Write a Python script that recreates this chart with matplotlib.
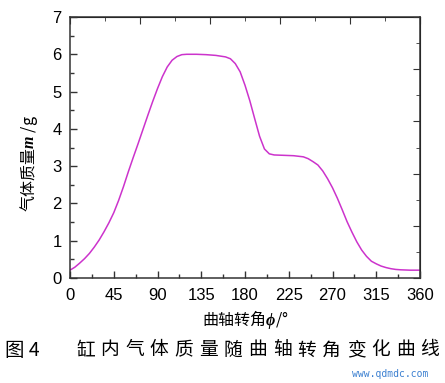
import matplotlib
matplotlib.use("Agg")
import matplotlib.pyplot as plt
from matplotlib.ticker import MultipleLocator

plt.rcParams['font.family'] = ['Liberation Sans', 'Noto Sans CJK SC', 'DejaVu Sans']
plt.rcParams['mathtext.fontset'] = 'custom'
plt.rcParams['mathtext.it'] = 'Liberation Serif:italic:bold'
plt.rcParams['mathtext.rm'] = 'Liberation Sans'

# crank angle (deg) and in-cylinder gas mass (g)
phi = [0, 5, 10, 15, 20, 25, 30, 35, 40, 45, 50, 55, 60, 65, 70, 75, 80, 85,
       90, 95, 100, 105, 110, 115, 120, 130, 140, 150, 155, 160, 165, 170,
       175, 180, 185, 190, 195, 200, 205, 210, 220, 230, 240, 245, 250, 255,
       260, 265, 270, 275, 280, 285, 290, 295, 300, 305, 310, 315, 320, 325,
       330, 335, 340, 350, 360]
mass = [0.21, 0.29, 0.40, 0.52, 0.66, 0.83, 1.02, 1.24, 1.48, 1.75, 2.08, 2.45,
        2.85, 3.23, 3.60, 3.98, 4.36, 4.73, 5.08, 5.40, 5.66, 5.84, 5.94, 5.99,
        6.00, 6.00, 5.99, 5.97, 5.95, 5.93, 5.88, 5.75, 5.53, 5.17, 4.75, 4.27,
        3.80, 3.46, 3.33, 3.30, 3.29, 3.28, 3.25, 3.20, 3.12, 3.03, 2.87, 2.66,
        2.42, 2.14, 1.83, 1.51, 1.23, 0.97, 0.75, 0.58, 0.45, 0.38, 0.32, 0.28,
        0.25, 0.23, 0.22, 0.21, 0.21]

x_ticks = [0, 45, 90, 135, 180, 225, 270, 315, 360]
y_ticks = [0, 1, 2, 3, 4, 5, 6, 7]

fig = plt.figure(figsize=(4.45, 3.83), dpi=100)
ax = fig.add_axes([70/445, 1-278/383, 350/445, 261/383])

ax.plot(phi, mass, color='#cc33cc', lw=1.1, solid_joinstyle='round')

ax.set_xlim(0, 360)
ax.set_ylim(0, 7)
ax.set_xticks(x_ticks)
ax.set_yticks(y_ticks)
ax.xaxis.set_minor_locator(MultipleLocator(22.5))
ax.yaxis.set_minor_locator(MultipleLocator(0.5))
ax.tick_params(which='both', direction='in', labelsize=12, color='#333333')
ax.tick_params(which='major', length=5, width=1)
ax.tick_params(which='minor', length=3, width=1)
ax.tick_params(axis='x', pad=7)
ax.tick_params(axis='y', pad=6)
for s in ax.spines.values():
    s.set_linewidth(1.1)
    s.set_color('#333333')

# top / right axes in the original use their own spacing
top = ax.secondary_xaxis('top')
top.set_xticks([0, 72, 144, 216, 288, 360])
top.xaxis.set_minor_locator(MultipleLocator(36))
top.tick_params(which='both', direction='in', labeltop=False, color='#333333')
top.tick_params(which='major', length=5)
top.tick_params(which='minor', length=3)
right = ax.secondary_yaxis('right')
right.set_yticks([0, 1.4, 2.8, 4.2, 5.6, 7])
right.yaxis.set_minor_locator(MultipleLocator(0.7))
right.tick_params(which='both', direction='in', labelright=False, color='#333333')
right.tick_params(which='major', length=5)
right.tick_params(which='minor', length=3)

cjk = ['Noto Sans CJK SC', 'DejaVu Sans']
ax.set_xlabel('曲轴转角$\\phi$/°', fontsize=11.5, family=cjk, labelpad=4)
ax.set_ylabel('气体质量$m$ /g', fontsize=11.5, family=cjk, labelpad=4)
ax.yaxis.set_label_coords(-0.085, 0.44)

# caption
fig.text(5/445, 1-350/383, '图 4', fontsize=14, family=cjk, va='center')
cap = '缸内气体质量随曲轴转角变化曲线'
for i, ch in enumerate(cap):
    fig.text((76 + i*24.6)/445, 1-350/383, ch, fontsize=13.5, family=cjk, va='center')
fig.text(428/445, 1-374/383, 'www.qdmdc.com', fontsize=7, color='#3a7fd0',
         ha='right', va='center', family='DejaVu Sans Mono')

fig.savefig('out.png', dpi=100)
